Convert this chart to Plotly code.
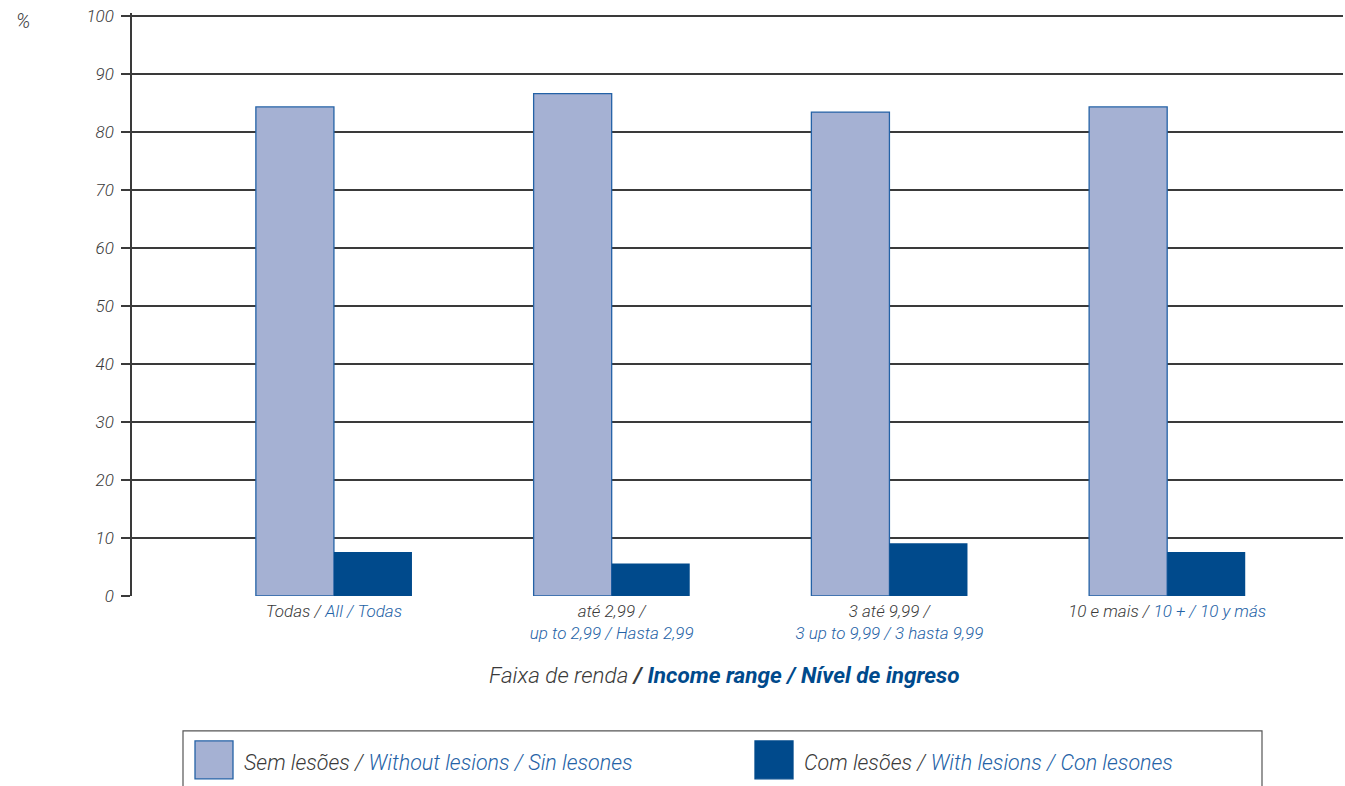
import plotly.graph_objects as go

# ---- data ----
cat_pt = ["Todas /", "até 2,99 /", "3 até 9,99 /", "10 e mais /"]
cat_en_es = ["All / Todas", "up to 2,99 / Hasta 2,99", "3 up to 9,99 / 3 hasta 9,99", "10 + / 10 y más"]
cat_two_lines = [False, True, True, False]
without_lesions = [84.4, 86.7, 83.5, 84.4]
with_lesions = [7.6, 5.6, 9.1, 7.6]
series_pt = ["Sem lesões /", "Com lesões /"]
series_en_es = ["Without lesions / Sin lesones", "With lesions / Con lesones"]
y_ticks = [0, 10, 20, 30, 40, 50, 60, 70, 80, 90, 100]

LIGHT = "#A5B1D3"
LIGHT_LINE = "#2462A6"
DARK = "#004A8C"
BLUE_TXT = "#2462A6"
GREY_TXT = "#3a3a3a"
FONT = "Roboto"

OFF = 0  # page body margin (removed by post_script)
W, H = 1345, 786
Y_TOP = 100.6
# plot area in screen pixels (y=100 sits at screen y=16)
L, R, B = 132, 1343, 596
T = B - (B - 16) * Y_TOP / 100


def xp(px):
    return (px - L) / (R - L)


def yp(py):
    return (B - py) / (B - T)


xs = list(range(len(cat_pt)))
ticktext = []
for pt, ee, two in zip(cat_pt, cat_en_es, cat_two_lines):
    sep = "<br>" if two else " "
    ticktext.append(f"<span style='color:{GREY_TXT}'>{pt}</span>{sep}<span style='color:{BLUE_TXT}'>{ee}</span>")

fig = go.Figure()
fig.add_bar(x=xs, y=without_lesions, name=series_pt[0] + " " + series_en_es[0],
            marker=dict(color=LIGHT, line=dict(color=LIGHT_LINE, width=1.3)), showlegend=False)
fig.add_bar(x=xs, y=with_lesions, name=series_pt[1] + " " + series_en_es[1],
            marker=dict(color=DARK, line=dict(color=DARK, width=0)), showlegend=False)

fig.update_layout(
    width=W, height=H,
    margin=dict(l=L - OFF, r=W - (R - OFF), t=T - OFF, b=H - (B - OFF), autoexpand=False),
    paper_bgcolor="white", plot_bgcolor="white",
    barmode="group", bargap=0.438, bargroupgap=0,
    font=dict(family=FONT, color=GREY_TXT, size=16, style="italic", weight=300),
    showlegend=False,
)
fig.update_xaxes(
    range=[-0.727, 3.633], tickmode="array", tickvals=xs, ticktext=ticktext,
    showgrid=False, zeroline=False, showline=False, ticks="", tickangle=0,
    ticklabelstandoff=3,
    tickfont=dict(family=FONT, size=17, style="italic", weight=300),
)
fig.update_yaxes(
    range=[0, Y_TOP], tickmode="array", tickvals=y_ticks,
    showgrid=True, gridcolor="#3a3a3a", gridwidth=1.5, zeroline=False,
    showline=True, linecolor="#3a3a3a", linewidth=1.5,
    ticks="outside", ticklen=9, tickcolor="#3a3a3a", tickwidth=1.5,
    ticklabelstandoff=4, ticklabeloverflow="allow",
    tickfont=dict(family=FONT, size=17, color=GREY_TXT, style="italic", weight=300),
)

ann = []
ann.append(dict(text="%", x=xp(23), y=yp(21), xref="paper", yref="paper", showarrow=False,
                xanchor="center", yanchor="middle",
                font=dict(family=FONT, size=20, color=GREY_TXT, style="italic", weight=300)))
ann.append(dict(
    text=(f"<span style='color:{GREY_TXT}'>Faixa de renda</span> <b>/ "
          f"<span style='color:{DARK}'>Income range / Nível de ingreso</span></b>"),
    x=xp(724), y=yp(675), xref="paper", yref="paper", showarrow=False,
    xanchor="center", yanchor="middle",
    font=dict(family=FONT, size=22.5, style="italic", weight=300)))

shapes = []
# legend box
shapes.append(dict(type="rect", xref="paper", yref="paper", x0=xp(183), x1=xp(1262), y0=yp(731), y1=yp(810),
                   line=dict(color="#555555", width=1.2), fillcolor="white", layer="below"))
leg_x = [195, 755]
sw_fill = [LIGHT, DARK]
sw_line = [LIGHT_LINE, DARK]
for i in range(2):
    shapes.append(dict(type="rect", xref="paper", yref="paper", x0=xp(leg_x[i]), x1=xp(leg_x[i] + 38),
                       y0=yp(741), y1=yp(779), fillcolor=sw_fill[i], line=dict(color=sw_line[i], width=1.3)))
    ann.append(dict(
        text=f"<span style='color:{GREY_TXT}'>{series_pt[i]}</span> <span style='color:{BLUE_TXT}'>{series_en_es[i]}</span>",
        x=xp(leg_x[i] + 47), y=yp(763), xref="paper", yref="paper", showarrow=False,
        xanchor="left", yanchor="middle",
        font=dict(family=FONT, size=21.5, style="italic", weight=300)))

fig.update_layout(annotations=ann, shapes=shapes)
fig.write_html("out.html", config={"displayModeBar": False},
               post_script="document.body.style.margin='0';document.body.style.overflow='hidden';")
